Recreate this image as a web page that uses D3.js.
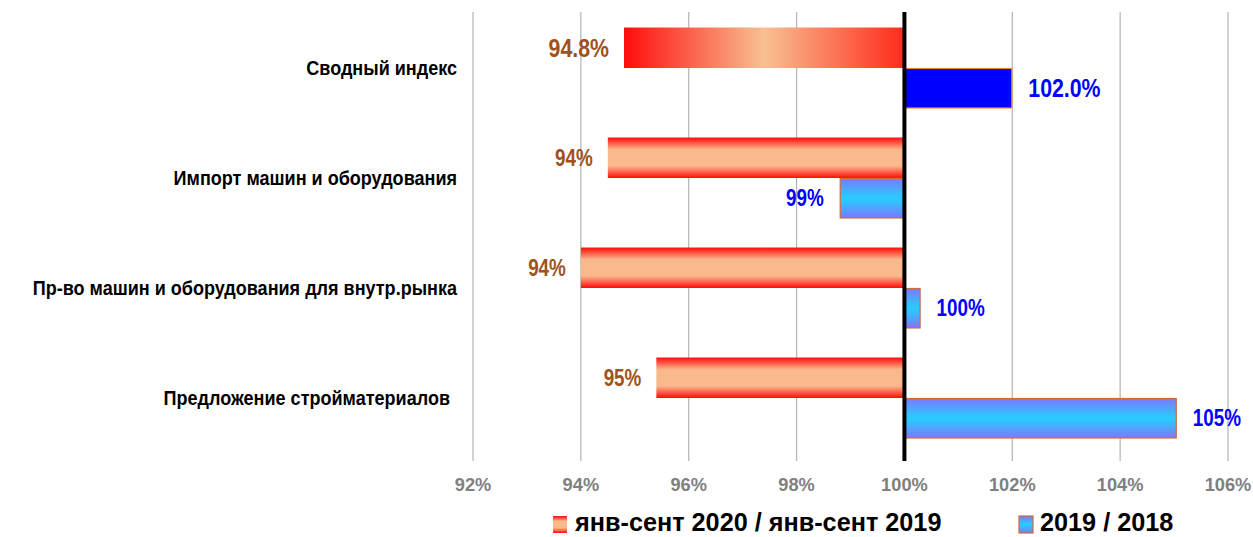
<!DOCTYPE html>
<html><head><meta charset="utf-8">
<script src="https://cdn.jsdelivr.net/npm/d3@7"></script>
<style>
body{margin:0;background:#fff;}
svg{display:block;}
text{font-family:"Liberation Sans",Arial,sans-serif;font-weight:bold;}
</style></head>
<body>
<svg id="chart" width="1253" height="537"></svg>
<script>
const categories = ["Сводный индекс","Импорт машин и оборудования","Пр-во машин и оборудования для внутр.рынка","Предложение стройматериалов"];
const series = ["янв-сент 2020 / янв-сент 2019","2019 / 2018"];
const values2020 = [94.8, 94.5, 94.0, 95.4];
const values2019 = [102.0, 98.8, 100.3, 105.05];
const labels2020 = ["94.8%","94%","94%","95%"];
const labels2019 = ["102.0%","99%","100%","105%"];
const ticks = [92,94,96,98,100,102,104,106];
const tickLabels = ["92%","94%","96%","98%","100%","102%","104%","106%"];

const svg = d3.select("#chart");
const defs = svg.append("defs");
function grad(id, vertical, stops){
  const g = defs.append("linearGradient").attr("id", id)
    .attr("x1",0).attr("y1",0).attr("x2", vertical?0:1).attr("y2", vertical?1:0);
  stops.forEach(s=>g.append("stop").attr("offset", s[0]).attr("stop-color", s[1]));
}
grad("redV", true, [[0,"#ff0c0c"],[0.3,"#f9b98d"],[0.7,"#f9b98d"],[1,"#ff0c0c"]]);
grad("redH", false, [[0,"#ff0c0c"],[0.5,"#f8c092"],[1,"#ff2a1a"]]);
grad("blueV", true, [[0,"#7c78ff"],[0.45,"#2cc8ff"],[0.55,"#2cc8ff"],[1,"#7c78ff"]]);

const x = d3.scaleLinear().domain([92,106]).range([473,1228]);
const y = d3.scaleBand().domain(categories).range([13,453]).paddingInner(0.264).paddingOuter(0.132);
const ys = d3.scaleBand().domain(series).range([0, y.bandwidth()]);
const base = 100;
const plotTop = 12, plotBottom = 461;
const narrow = 0.82;

// gridlines
svg.append("g").selectAll("line").data(ticks.filter(t=>t!==base)).join("line")
  .attr("x1", d=>x(d)).attr("x2", d=>x(d)).attr("y1", plotTop).attr("y2", plotBottom)
  .attr("stroke","#b4b4b4").attr("stroke-width",1.2);

// axis labels
svg.append("g").selectAll("text").data(ticks).join("text")
  .attr("transform", d=>`translate(${x(d)},491) scale(0.96,1)`)
  .attr("text-anchor","middle")
  .attr("font-size", 19).attr("fill","#808080")
  .text((d,i)=>tickLabels[i]);

// red bars
svg.append("g").selectAll("rect").data(values2020).join("rect")
  .attr("x", d=>x(Math.min(d,base))).attr("width", d=>Math.abs(x(d)-x(base)))
  .attr("y", (d,i)=>y(categories[i])+ys(series[0])).attr("height", ys.bandwidth())
  .attr("fill", (d,i)=> i===0 ? "url(#redH)" : "url(#redV)");

// blue bars
svg.append("g").selectAll("rect").data(values2019).join("rect")
  .attr("x", d=>x(Math.min(d,base))+0.5).attr("width", d=>Math.abs(x(d)-x(base))-1)
  .attr("y", (d,i)=>y(categories[i])+ys(series[1])+0.5).attr("height", ys.bandwidth()-1)
  .attr("fill", (d,i)=> i===0 ? "#0000ff" : "url(#blueV)")
  .attr("stroke", (d,i)=> i===0 ? "#e8862e" : "#d06a3a").attr("stroke-width",1.2);

// base line
svg.append("line").attr("x1", x(base)).attr("x2", x(base)).attr("y1", plotTop).attr("y2", plotBottom)
  .attr("stroke","#000").attr("stroke-width",4);

// red labels
svg.append("g").selectAll("text").data(values2020).join("text")
  .attr("transform", (d,i)=>`translate(${x(d)-15},${y(categories[i])+ys(series[0])+ys.bandwidth()/2}) scale(${narrow},1)`)
  .attr("dy","0.35em").attr("text-anchor","end")
  .attr("font-size",(d,i)=> i===0 ? 26 : 23).attr("fill","#a0521a")
  .text((d,i)=>labels2020[i]);

// blue labels
svg.append("g").selectAll("text").data(values2019).join("text")
  .attr("transform", (d,i)=>`translate(${d>=base ? x(d)+16 : x(d)-16},${y(categories[i])+ys(series[1])+ys.bandwidth()/2}) scale(${narrow},1)`)
  .attr("dy","0.35em").attr("text-anchor", d=> d>=base ? "start" : "end")
  .attr("font-size",(d,i)=> i===0 ? 26 : 23).attr("fill","#0000ff")
  .text((d,i)=>labels2019[i]);

// category labels
svg.append("g").selectAll("text").data(categories).join("text")
  .attr("transform", (d,i)=>`translate(${i===3 ? 450 : 457},${y(d)+y.bandwidth()/2}) scale(0.88,1)`)
  .attr("dy","0.35em").attr("text-anchor","end")
  .attr("font-size",20.5).attr("fill","#000")
  .text(d=>d);

// legend
const leg = svg.append("g");
const legItems = [
  {name: series[0], fill:"url(#redV)", stroke:"none", mx:553, tx:575},
  {name: series[1], fill:"url(#blueV)", stroke:"#d06a3a", mx:1019, tx:1040}
];
legItems.forEach(it=>{
  leg.append("rect").attr("x", it.mx).attr("y", 516).attr("width", 14).attr("height", 17)
    .attr("fill", it.fill).attr("stroke", it.stroke).attr("stroke-width",1.2);
  leg.append("text").attr("transform",`translate(${it.tx},531) scale(1.01,1)`)
    .attr("font-size",25).attr("fill","#000").text(it.name);
});
</script>
</body></html>
